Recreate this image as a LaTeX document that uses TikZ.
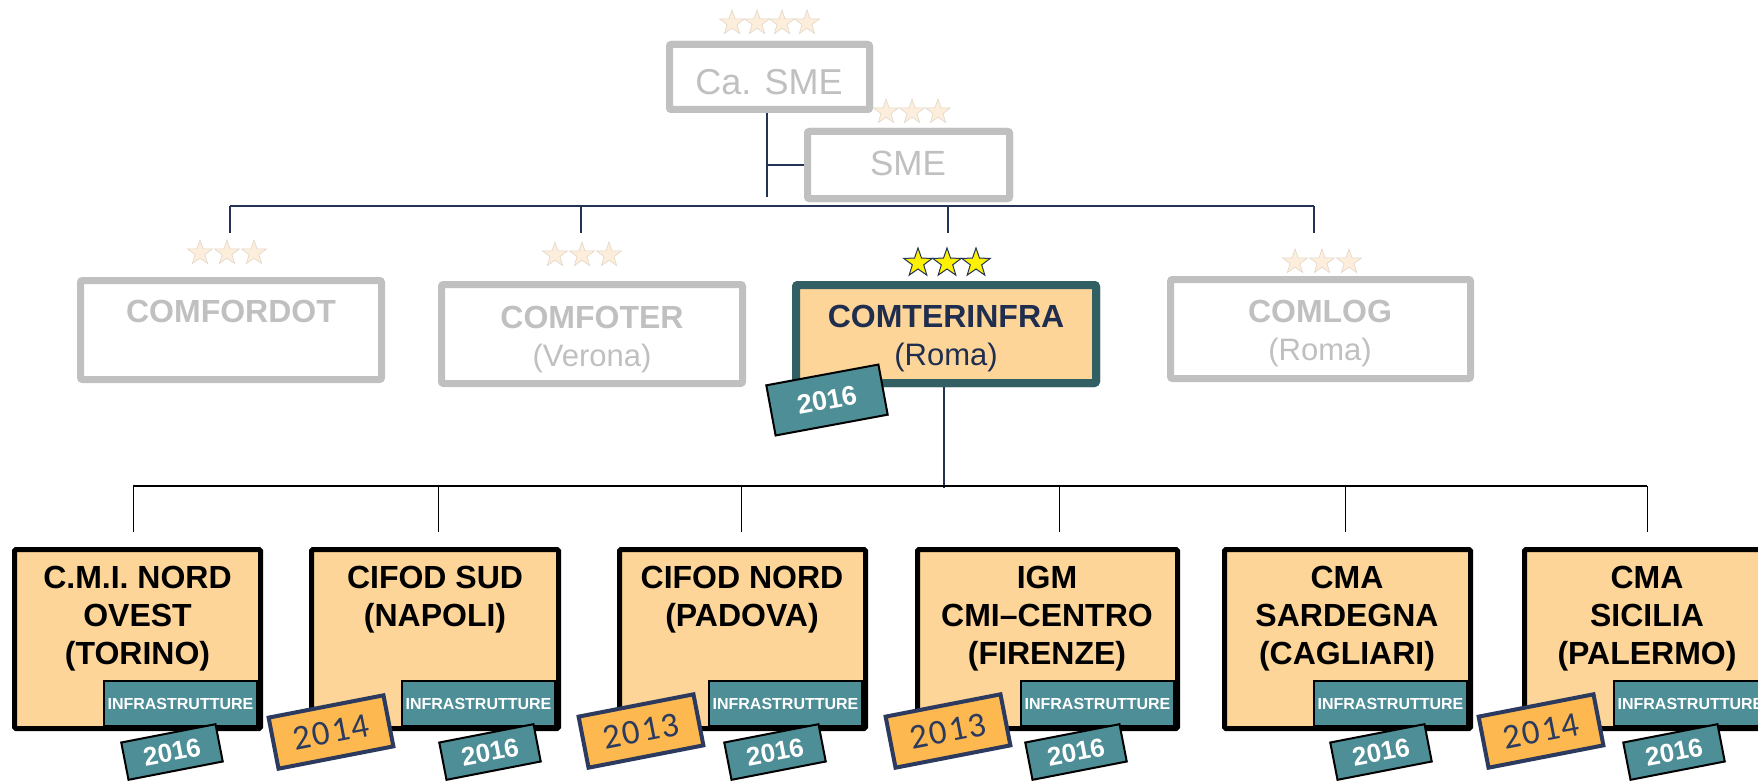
\documentclass[tikz,border=0pt]{standalone}
\usepackage{fontspec}
\setmainfont{Liberation Sans}
\newfontfamily\tagfont[LetterSpace=5]{Carlito}
\usetikzlibrary{shapes.geometric}
\definecolor{navy}{HTML}{233255}
\definecolor{grayline}{HTML}{C0C0C0}
\definecolor{peach}{HTML}{FDD598}
\definecolor{tealdark}{HTML}{325F63}
\definecolor{tealtag}{HTML}{4E8E96}
\definecolor{orangetag}{HTML}{FDB94F}
\definecolor{tagnavy}{HTML}{2B3A5E}
\definecolor{stargray}{HTML}{FDEEDB}
\definecolor{staredge}{HTML}{E2D6C8}
\definecolor{textnavy}{HTML}{1F2D4E}
\tikzset{
  lbl/.style={inner sep=0pt, outer sep=0pt, align=center},
  graybox/.style={draw=grayline, line width=7pt, fill=white, rounded corners=2pt, inner sep=0pt, outer sep=0pt},
  mainbox/.style={draw=tealdark, line width=8pt, fill=peach, rounded corners=2pt, inner sep=0pt, outer sep=0pt},
  unitbox/.style={draw=black, line width=5pt, fill=peach, rounded corners=1.5pt, inner sep=0pt, outer sep=0pt, minimum height=179pt},
  infrabox/.style={draw=black, line width=2pt, fill=tealtag, inner sep=0pt, outer sep=0pt, minimum width=153pt, minimum height=45pt, text=white, font=\bfseries\fontsize{16}{16}\selectfont},
  newtag/.style={draw=black, line width=2pt, fill=tealtag, inner sep=0pt, rotate=11, minimum width=96pt, minimum height=38pt, text=white, font=\bfseries\fontsize{26}{26}\selectfont},
  oldtag/.style={draw=tagnavy, line width=4pt, fill=orangetag, inner sep=0pt, rotate=11, minimum width=117pt, minimum height=52pt, text=tagnavy, font=\tagfont\fontsize{35}{35}\selectfont},
  graystar/.style={star, star points=5, star point ratio=2.5, minimum size=26pt, inner sep=0pt, fill=stargray, draw=staredge, line width=0.6pt},
  yelstar/.style={star, star points=5, star point ratio=2.5, minimum size=30pt, inner sep=0pt, fill=yellow, draw=navy, line width=1pt},
  upline/.style={draw=navy, line width=2.5pt},
  lowline/.style={draw=black, line width=2.5pt},
  thinline/.style={draw=black, line width=1pt},
  btext/.style={lbl, anchor=north, font=\bfseries\fontsize{32}{38}\selectfont},
  gtext/.style={lbl, anchor=north, text=grayline, font=\fontsize{31}{38}\selectfont}
}
\begin{document}
\begin{tikzpicture}[x=1pt,y=-1pt]
\useasboundingbox (0,0) rectangle (1758,781);
\clip (0,0) rectangle (1758,781);
\fill[white] (0,0) rectangle (1758,781);

% ---------- connector coordinates ----------
\coordinate (topstem) at (767,197);
\coordinate (busL) at (230,206);
\coordinate (busR) at (1314,206);
\coordinate (d1) at (230,233);
\coordinate (d2) at (581,233);
\coordinate (d3) at (948,233);
\coordinate (d4) at (1314,233);
\coordinate (cdrop) at (944,488);
\coordinate (lbL) at (133,486);
\coordinate (lbR) at (1647,486);
\coordinate (e1) at (133,532);
\coordinate (e2) at (438,532);
\coordinate (e3) at (741,532);
\coordinate (e4) at (1059,532);
\coordinate (e5) at (1345,532);
\coordinate (e6) at (1647,532);

% ---------- top boxes ----------
\node[graybox, minimum width=200pt, minimum height=65pt] (casme) at (769.5,77) {};
\node[graybox, minimum width=202pt, minimum height=67pt] (sme) at (908.5,165) {};

\draw[upline] (casme.south -| topstem) -- (topstem);
\draw[upline] (topstem |- sme.west) -- (sme.west);
\draw[upline] (busL) -- (busR);
\draw[upline] (d1 |- busL) -- (d1);
\draw[upline] (d2 |- busL) -- (d2);
\draw[upline, line width=1.5pt] (d3 |- busL) -- (d3);
\draw[upline] (d4 |- busL) -- (d4);

% redraw boxes over connector ends
\node[graybox, minimum width=200pt, minimum height=65pt] (casmetop) at (769.5,77) {};
\node[graybox, minimum width=202pt, minimum height=67pt] (smetop) at (908.5,165) {};
\node[lbl, anchor=base, text=grayline, font=\fontsize{36}{36}\selectfont] (tcasme) at (769,95) {Ca. SME};
\node[lbl, anchor=base, text=grayline, font=\fontsize{35}{35}\selectfont] (tsme) at (908,175) {SME};

\foreach \x [count=\i] in {732,757,782,807} \node[graystar] (sa\i) at (\x,23) {};
\foreach \x [count=\i] in {886,912,938} \node[graystar] (sb\i) at (\x,112) {};

% ---------- middle row ----------
\node[graybox, minimum width=301pt, minimum height=99pt] (comfordot) at (231,330) {};
\node[graybox, minimum width=301pt, minimum height=99pt] (comfoter) at (592,334) {};
\node[graybox, minimum width=300pt, minimum height=99pt] (comlog) at (1320.5,329) {};
\node[mainbox, minimum width=300pt, minimum height=98pt] (comterinfra) at (946,334) {};

\draw[upline, line width=2pt] (comterinfra.south -| cdrop) -- (cdrop);
\draw[lowline] (lbL) -- (lbR);
\foreach \k in {1,...,6} \draw[thinline] (e\k |- lbL) -- (e\k);

\node[mainbox, minimum width=300pt, minimum height=98pt] (comterinfratop) at (946,334) {};

\node[gtext] (tcomfordot) at (231,300) {{\fontsize{32}{38}\selectfont\bfseries COMFORDOT}};
\node[gtext] (tcomfoter) at (592,306) {{\fontsize{32}{38}\selectfont\bfseries COMFOTER}\\(Verona)};
\node[gtext] (tcomlog) at (1320,300) {{\fontsize{32}{38}\selectfont\bfseries COMLOG}\\(Roma)};
\node[gtext, text=textnavy] (tcomterinfra) at (946,305) {{\fontsize{32}{38}\selectfont\bfseries COMTERINFRA}\\(Roma)};

\foreach \x [count=\i] in {200,227,254} \node[graystar] (sc\i) at (\x,253) {};
\foreach \x [count=\i] in {555,582,609} \node[graystar] (sd\i) at (\x,255) {};
\foreach \x [count=\i] in {918,947,976} \node[yelstar] (se\i) at (\x,263) {};
\foreach \x [count=\i] in {1295,1322,1349} \node[graystar] (sf\i) at (\x,262) {};

\node[newtag, rotate=-0.5, minimum width=114pt, minimum height=51pt, font=\bfseries\fontsize{27}{27}\selectfont] (tagc) at (827,400) {2016};

% ---------- bottom row ----------
\node[unitbox, minimum width=246pt] (u1) at (137.5,639) {};
\node[unitbox, minimum width=247pt] (u2) at (435,639) {};
\node[unitbox, minimum width=246pt] (u3) at (742.5,639) {};
\node[unitbox, minimum width=260pt] (u4) at (1047.5,639) {};
\node[unitbox, minimum width=246pt] (u5) at (1347.5,639) {};
\node[unitbox, minimum width=246pt] (u6) at (1647.5,639) {};

\node[btext] (t1) at (137.5,566) {C.M.I. NORD\\OVEST\\(TORINO)};
\node[btext] (t2) at (435,566) {CIFOD SUD\\(NAPOLI)};
\node[btext] (t3) at (742,566) {CIFOD NORD\\(PADOVA)};
\node[btext] (t4) at (1047,566) {IGM\\CMI–CENTRO\\(FIRENZE)};
\node[btext] (t5) at (1347,566) {CMA\\SARDEGNA\\(CAGLIARI)};
\node[btext] (t6) at (1647,566) {CMA\\SICILIA\\(PALERMO)};

\node[infrabox] (i1) at (180.5,703.5) {INFRASTRUTTURE};
\node[infrabox] (i2) at (478.5,703.5) {INFRASTRUTTURE};
\node[infrabox] (i3) at (785.5,703.5) {INFRASTRUTTURE};
\node[infrabox] (i4) at (1097.5,703.5) {INFRASTRUTTURE};
\node[infrabox] (i5) at (1390.5,703.5) {INFRASTRUTTURE};
\node[infrabox] (i6) at (1690.5,703.5) {INFRASTRUTTURE};

\node[oldtag] (o2) at (331,732) {2014};
\node[oldtag] (o3) at (641,731) {2013};
\node[oldtag] (o4) at (948,731) {2013};
\node[oldtag] (o6) at (1541,731) {2014};

\node[newtag] (n1) at (172,752) {2016};
\node[newtag] (n2) at (490,752) {2016};
\node[newtag] (n3) at (775,752) {2016};
\node[newtag] (n4) at (1076,752) {2016};
\node[newtag] (n5) at (1381,752) {2016};
\node[newtag] (n6) at (1674,752) {2016};
\end{tikzpicture}
\end{document}
